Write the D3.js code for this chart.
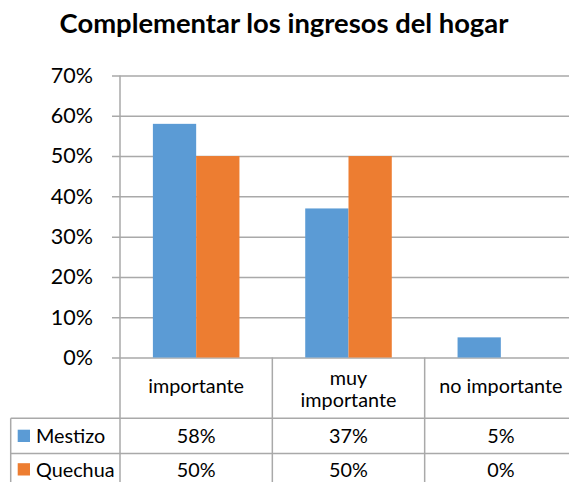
<!DOCTYPE html>
<html>
<head>
<meta charset="utf-8">
<script src="https://cdn.jsdelivr.net/npm/d3@7"></script>
<style>
html,body{margin:0;padding:0;background:#fff;}
svg{display:block;font-family:Lato,"Open Sans",sans-serif;}
</style>
</head>
<body>
<svg id="chart" width="569" height="482"></svg>
<script>
const title = "Complementar los ingresos del hogar";
const categories = ["importante", "muy importante", "no importante"];
const categoryLines = [["importante"], ["muy", "importante"], ["no importante"]];
const seriesNames = ["Mestizo", "Quechua"];
const mestizo = [0.58, 0.37, 0.05];
const quechua = [0.50, 0.50, 0.00];
const tableLabels = [["58%", "37%", "5%"], ["50%", "50%", "0%"]];
const yTicks = [0, 0.1, 0.2, 0.3, 0.4, 0.5, 0.6, 0.7];
const colors = ["#5B9BD5", "#ED7D31"];

(function () {
const svg = d3.select("#chart");
const pL = 120, pR = 577, pT = 75.5, pB = 357.5;
const gridColor = "#a9a9a9";

const x = d3.scaleBand().domain(categories).range([pL, pR]).paddingInner(0).paddingOuter(0);
const xs = d3.scaleBand().domain(seriesNames).range([0, x.bandwidth()]).paddingInner(0).paddingOuter(0.76);
const y = d3.scaleLinear().domain([0, 0.7]).range([pB, pT]);

// Title
const t = svg.append("text").attr("x", 284).attr("y", 33).attr("text-anchor", "middle")
  .attr("font-weight", "bold").attr("font-size", 24).attr("fill", "#000").text(title);
const tl = t.node().getComputedTextLength();
t.attr("font-size", 24 * 449 / tl);

// Axis with gridlines
const axis = d3.axisLeft(y).tickValues(yTicks).tickFormat(d3.format(".0%"))
  .tickSizeInner(-(pR - pL)).tickSizeOuter(0).tickPadding(27);
const g = svg.append("g").attr("transform", `translate(${pL},0)`).call(axis);
g.select(".domain").remove();
g.selectAll(".tick line").attr("x1", -8).attr("stroke", gridColor).attr("stroke-width", 1.5);
g.selectAll(".tick text").attr("font-size", 21.5).attr("fill", "#000").attr("font-family", "Lato,sans-serif");

// Bars
const data = categories.map((c, i) => ({cat: c, vals: [mestizo[i], quechua[i]]}));
const groups = svg.append("g").selectAll("g").data(data).join("g")
  .attr("transform", d => `translate(${x(d.cat)},0)`);
groups.selectAll("rect").data(d => d.vals.map((v, j) => ({s: seriesNames[j], v, j})))
  .join("rect")
  .attr("x", d => xs(d.s)).attr("width", xs.bandwidth())
  .attr("y", d => y(d.v)).attr("height", d => y(0) - y(d.v))
  .attr("fill", d => colors[d.j]);

// Data table
const rowTop = pB, headerBottom = 418.3, row1Bottom = 453.5, row2Bottom = 489;
const tableLeft = 10.7;
const lines = svg.append("g").attr("stroke", gridColor).attr("stroke-width", 1.5);
lines.append("line").attr("x1", pL).attr("x2", pL).attr("y1", pT).attr("y2", row2Bottom);
categories.forEach((c, i) => {
  if (i > 0) lines.append("line").attr("x1", x(c)).attr("x2", x(c)).attr("y1", rowTop).attr("y2", row2Bottom);
});
[headerBottom, row1Bottom].forEach(yy => {
  lines.append("line").attr("x1", tableLeft).attr("x2", pR).attr("y1", yy).attr("y2", yy);
});
lines.append("line").attr("x1", tableLeft).attr("x2", tableLeft).attr("y1", headerBottom).attr("y2", row2Bottom);

// Header labels
const hdr = svg.append("g").attr("font-size", 19.8).attr("fill", "#000").attr("text-anchor", "middle");
categories.forEach((c, i) => {
  const ls = categoryLines[i];
  const cx = x(c) + x.bandwidth() / 2;
  const base = ls.length === 1 ? 393 : 385;
  ls.forEach((l, k) => {
    hdr.append("text").attr("x", cx).attr("y", base + k * 22).text(l);
  });
});

// Rows
const rowBase = [443, 476.5];
seriesNames.forEach((s, j) => {
  svg.append("rect").attr("x", 17.7).attr("y", rowBase[j] - 13.3).attr("width", 12.3).attr("height", 12.3).attr("fill", colors[j]);
  svg.append("text").attr("x", 36).attr("y", rowBase[j]).attr("font-size", 19.8).attr("fill", "#000").text(s);
  categories.forEach((c, i) => {
    svg.append("text").attr("x", x(c) + x.bandwidth() / 2).attr("y", rowBase[j])
      .attr("text-anchor", "middle").attr("font-size", 19.8).attr("fill", "#000").text(tableLabels[j][i]);
  });
});
})();
</script>
</body>
</html>
